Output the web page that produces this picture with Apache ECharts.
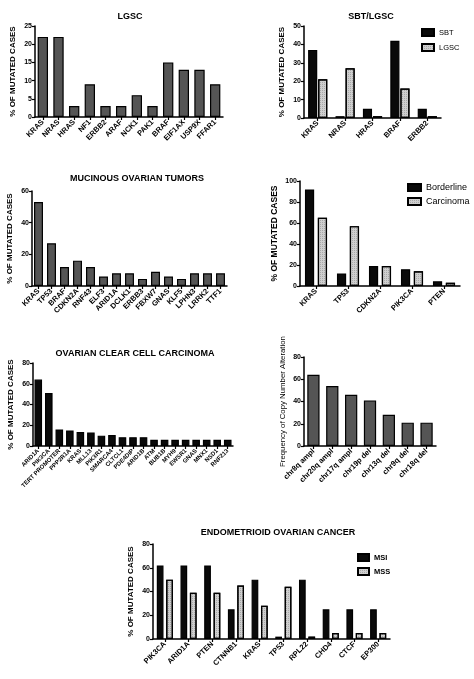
<!DOCTYPE html>
<html>
<head>
<meta charset="utf-8">
<script src="https://cdn.jsdelivr.net/npm/echarts@6/dist/echarts.min.js"></script>
<style>
html,body{margin:0;padding:0;background:#fff;}
#chart{width:474px;height:679px;}
</style>
</head>
<body>
<div id="chart"></div>
<script>
// ---------- DATA ----------
const lgscGenes = ['KRAS','NRAS','HRAS','NF1','ERBB2','ARAF','NCK1','PAK1','BRAF','EIF1AX','USP9X','FFAR1'];
const lgscValues = [22,22,3,9,3,3,6,3,15,13,13,9];
const lgscTicks = [0,5,10,15,20,25];

const sbtGenes = ['KRAS','NRAS','HRAS','BRAF','ERBB2'];
const sbtValues = [37,1,5,42,5];
const sbtLgscValues = [21,27,1,16,1];
const sbtTicks = [0,10,20,30,40,50];

const mucGenes = ['KRAS','TP53','BRAF','CDKN2A','RNF43','ELF3','ARID1A','DCLK1','ERBB3','FBXW7','GNAS','KLF5','LPHN3','LRRK2','TTF1'];
const mucValues = [53,27,12,16,12,6,8,8,4.5,9,6,4.5,8,8,8];
const mucTicks = [0,20,40,60];

const bcGenes = ['KRAS','TP53','CDKN2A','PIK3CA','PTEN'];
const borderlineValues = [92,12,19,16,4.5];
const carcinomaValues = [65,57,19,14,3];
const bcTicks = [0,20,40,60,80,100];

const occcGenes = ['ARID1A','PIK3CA','TERT PROMOTER','PPP2R1A','KRAS','MLL13','PIK3R1','SMARCA4','CLTCL1','PDE4DIP','ARID1B','ATM','BUB1B','MYH9','EWSR1','GNAS','MNX1','NSD1','RNF213'];
const occcValues = [64,51,16,15,13.5,13,10,10.5,8.5,8.5,8.5,6,6,6,6,6,6,6,6];
const occcTicks = [0,20,40,60,80];

const cnaLabels = ['chr8q ampl','chr20q ampl','chr17q ampl','chr19p del','chr13q del','chr9q del','chr18q del'];
const cnaValues = [64,54,46,41,28,21,21];
const cnaTicks = [0,20,40,60,80];

const endoGenes = ['PIK3CA','ARID1A','PTEN','CTNNB1','KRAS','TP53','RPL22','CHD4','CTCF','EP300'];
const msiValues = [62,62,62,25,50,2,50,25,25,25];
const mssValues = [50,39,39,45,28,44,2,5,5,5];
const endoTicks = [0,20,40,60,80];

// ---------- STYLE HELPERS ----------
const FONT = '"Liberation Sans", Arial, sans-serif';
const DARK = '#555555';
const BLACK = '#0a0a0a';
const LIGHT = '#cfcfcf';
const hatch = {symbol:'rect', symbolSize:1, color:'rgba(0,0,0,0.18)', dashArrayX:[1,1], dashArrayY:[1,1], rotation:0};

function grid(left, top, width, height){ return {left, top, width, height}; }

function yAx(gi, ticks, name, gap, opts){
  opts = opts || {};
  return {
    gridIndex: gi, type:'value',
    min: ticks[0], max: ticks[ticks.length-1], interval: ticks[1]-ticks[0],
    name: name, nameLocation:'middle', nameRotate:90, nameGap: gap,
    nameTextStyle:{fontFamily:FONT, fontWeight: opts.nameWeight || 'bold', fontSize: opts.nameSize || 8, color:'#000'},
    axisLine:{show:true, lineStyle:{color:'#000', width:1.5}},
    axisTick:{show:true, length:3, lineStyle:{color:'#000', width:1.2}},
    axisLabel:{fontFamily:FONT, fontSize:7, fontWeight:'bold', color:'#000', margin:3},
    splitLine:{show:false}
  };
}
function xAx(gi, cats, fs){
  return {
    gridIndex: gi, type:'category', data: cats,
    axisLine:{show:true, lineStyle:{color:'#000', width:1.5}},
    axisTick:{show:true, alignWithLabel:true, length:3, lineStyle:{color:'#000', width:1.2}},
    axisLabel:{rotate:45, interval:0, fontFamily:FONT, fontSize: fs || 7.5, fontWeight:'bold', color:'#000', margin:4}
  };
}
function title(text, x, y){
  return {text, left:x, top:y, textAlign:'center',
    textStyle:{fontFamily:FONT, fontSize:9, fontWeight:'bold', color:'#000'}};
}
function bar(name, gi, data, color, gap, extra){
  const s = {
    name, type:'bar', xAxisIndex:gi, yAxisIndex:gi, data,
    barCategoryGap: gap, itemStyle:{color, borderColor:'#000', borderWidth:1.2},
    emphasis:{disabled:true}, animation:false
  };
  return Object.assign(s, extra || {});
}
function legend(names, left, top, iw, ih, gap, fs, weight){
  return {data:names, orient:'vertical', left, top, itemWidth:iw, itemHeight:ih, itemGap:gap,
    icon:'rect', selectedMode:false,
    textStyle:{fontFamily:FONT, fontSize:fs, fontWeight: weight || 'normal', color:'#000'}};
}

const option = {
  backgroundColor:'#fff',
  animation:false,
  title:[
    title('LGSC',125,7),
    title('SBT/LGSC',366,7),
    title('MUCINOUS OVARIAN TUMORS',132,169),
    title('OVARIAN CLEAR CELL CARCINOMA',130,344),
    title('ENDOMETRIOID OVARIAN CANCER',273,523)
  ],
  legend:[
    legend(['SBT','LGSC'],416,23,12,7,6,7.5),
    legend(['Borderline','Carcinoma'],402,178,13,7,5,9),
    legend(['MSI','MSS'],352,548,11,7,5,7.5,'bold')
  ],
  grid:[
    grid(35,26,188,91),
    grid(304,26,137,92),
    grid(32,191,195,95),
    grid(300,181,160,105),
    grid(33,363,200,83),
    grid(304,357,132,89),
    grid(153,544,237,95)
  ],
  xAxis:[
    xAx(0,lgscGenes),
    xAx(1,sbtGenes),
    xAx(2,mucGenes),
    xAx(3,bcGenes),
    xAx(4,occcGenes,6),
    xAx(5,cnaLabels,7.5),
    xAx(6,endoGenes)
  ],
  yAxis:[
    yAx(0,lgscTicks,'% OF MUTATED CASES',18),
    yAx(1,sbtTicks,'% OF MUTATED CASES',18),
    yAx(2,mucTicks,'% OF MUTATED CASES',18),
    yAx(3,bcTicks,'% OF MUTATED CASES',21,{nameSize:8.5}),
    yAx(4,occcTicks,'% OF MUTATED CASES',18),
    yAx(5,cnaTicks,'Frequency of Copy Number Alteration',17,{nameWeight:'normal',nameSize:7.8}),
    yAx(6,endoTicks,'% OF MUTATED CASES',18)
  ],
  series:[
    bar('LGSC cases',0,lgscValues,DARK,'34%'),
    bar('SBT',1,sbtValues,BLACK,'30%',{barGap:'10%'}),
    bar('LGSC',1,sbtLgscValues,LIGHT,'30%',{barGap:'10%', itemStyle:{color:LIGHT,borderColor:'#000',borderWidth:1.2,decal:hatch}}),
    bar('Mucinous',2,mucValues,DARK,'31%'),
    bar('Borderline',3,borderlineValues,BLACK,'31%',{barGap:'40%'}),
    bar('Carcinoma',3,carcinomaValues,LIGHT,'31%',{barGap:'40%', itemStyle:{color:LIGHT,borderColor:'#000',borderWidth:1.2,decal:hatch}}),
    bar('OCCC',4,occcValues,BLACK,'28%'),
    bar('CNA',5,cnaValues,DARK,'35%'),
    bar('MSI',6,msiValues,BLACK,'32%',{barGap:'40%'}),
    bar('MSS',6,mssValues,LIGHT,'32%',{barGap:'40%', itemStyle:{color:LIGHT,borderColor:'#000',borderWidth:1.2,decal:hatch}})
  ]
};

const chart = echarts.init(document.getElementById('chart'), null, {renderer:'canvas'});
chart.setOption(option);
</script>
</body>
</html>
